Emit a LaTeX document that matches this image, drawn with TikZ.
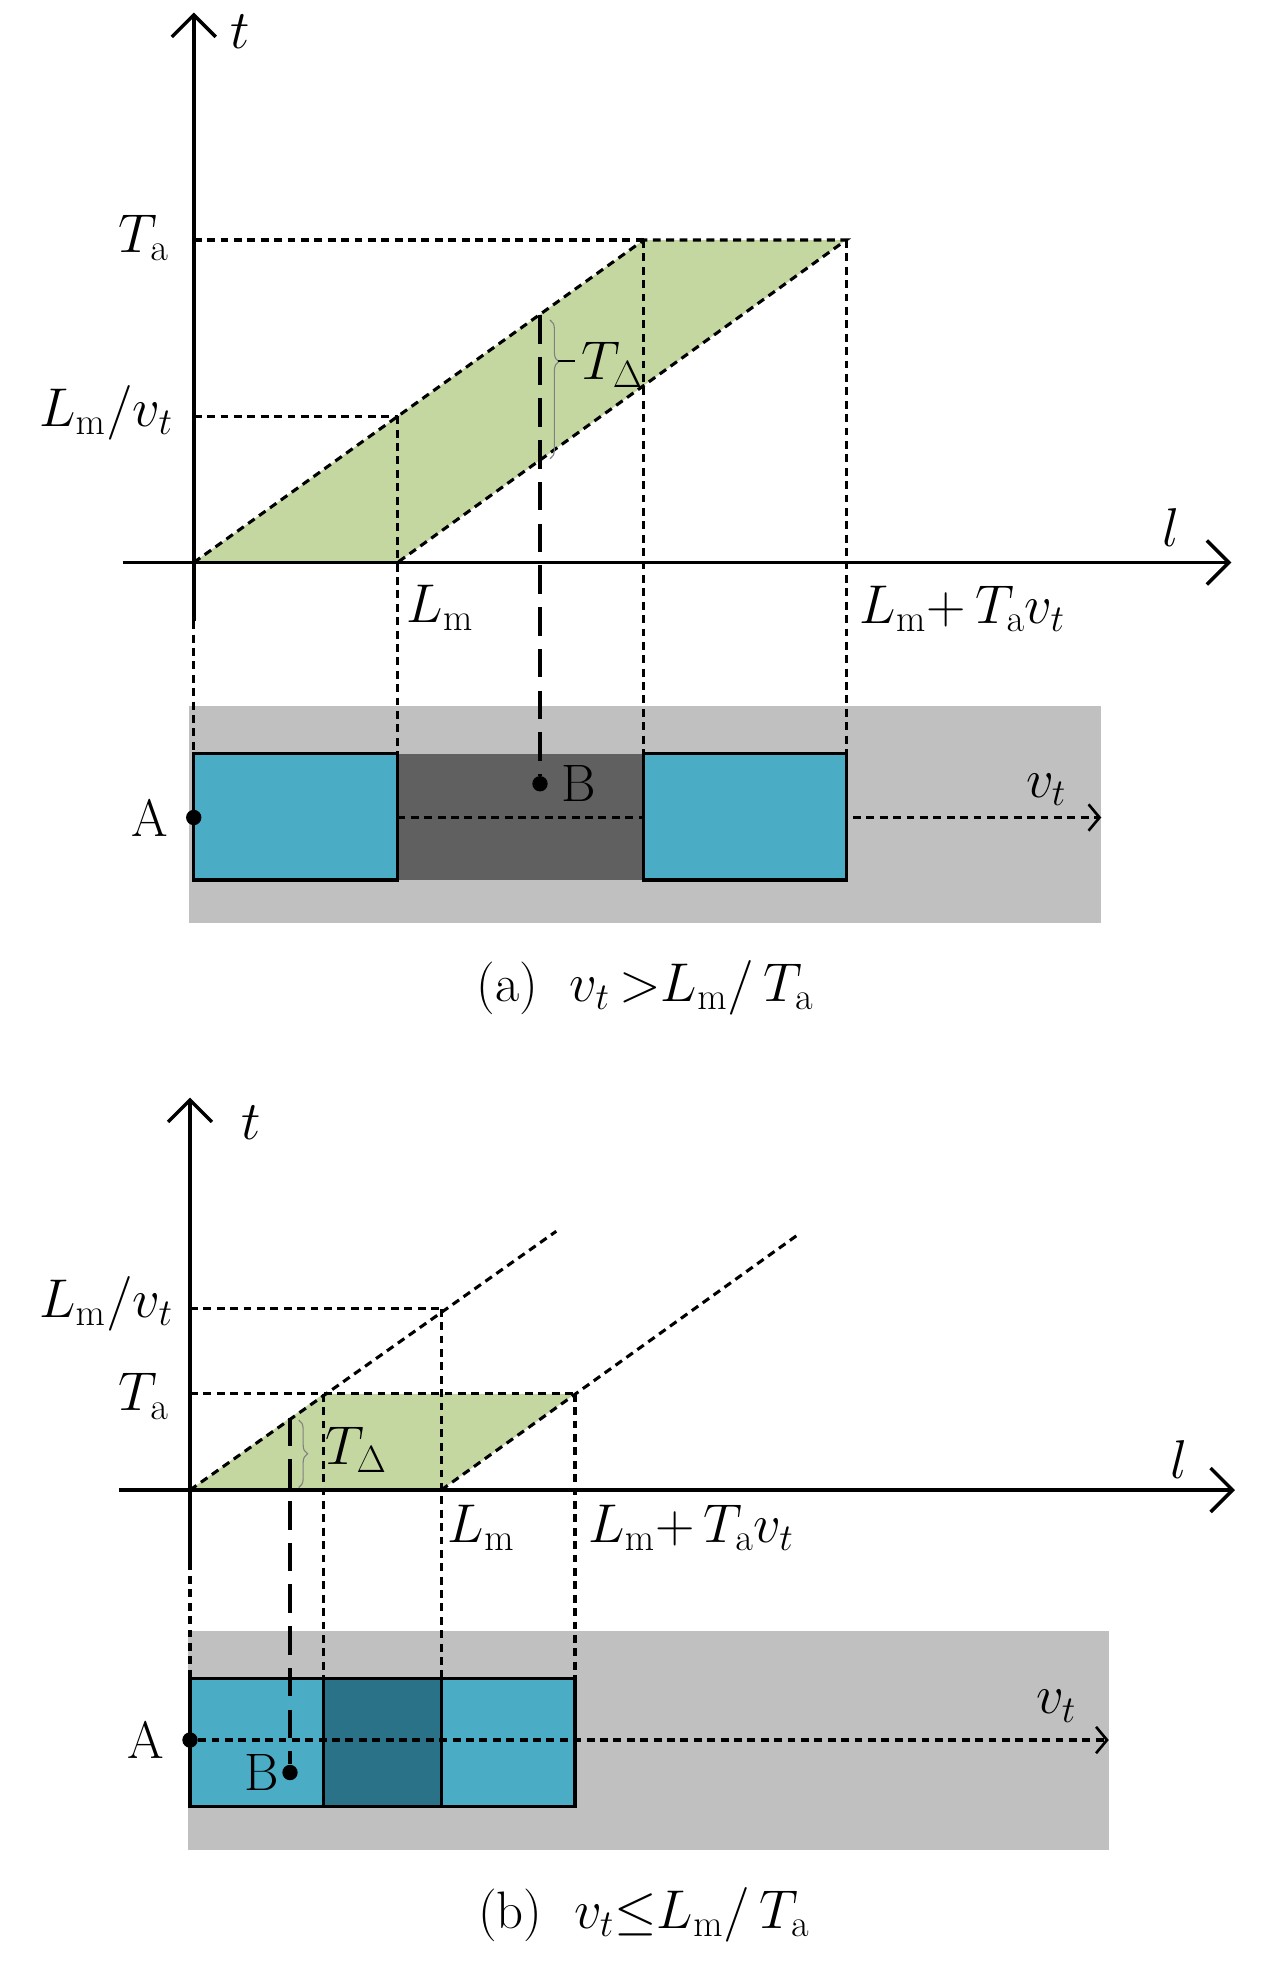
\documentclass[tikz,border=0pt]{standalone}
\usepackage{tikz}
\usetikzlibrary{arrows.meta,calc,positioning,decorations.pathreplacing}
\usepackage{amssymb}
\usepackage{amsmath}
\definecolor{gruen}{RGB}{196,215,160}
\definecolor{hellblau}{RGB}{75,172,198}
\definecolor{dunkelblau}{RGB}{42,114,136}
\definecolor{grau}{RGB}{192,192,192}
\definecolor{dunkelgrau}{RGB}{96,96,96}
\tikzset{
  achse/.style={line width=1.7pt,-{Straight Barb[length=10pt,width=20pt,line width=1.6pt]}},
  punktiert/.style={line width=1.4pt,dash pattern=on 3.6pt off 2.5pt},
  gestrichelt/.style={line width=1.8pt,dash pattern=on 13pt off 6pt},
  kasten/.style={line width=1.4pt,draw=black},
  beschr/.style={font=\fontsize{24}{28}\selectfont,inner sep=0pt},
  punkt/.style={circle,fill=black,inner sep=0pt,minimum size=7pt},
  klammer/.style={draw=gray,line width=0.5pt,decorate,decoration={brace,amplitude=4pt,aspect=#1}},
}
\begin{document}
\begin{tikzpicture}[x=0.02cm,y=-0.02cm]
\useasboundingbox (0,0) rectangle (1024,1572);
%Teil (a): v_t > L_m/T_a, Nullpunkt bei (155,450)
\coordinate (aO) at (155,450);   \coordinate (aLm) at (318,450);
\coordinate (aTa) at (515,192);  \coordinate (aTb) at (677,192);
\coordinate (aLv) at (318,333);
\fill[grau] (151,565) rectangle (881,738);
\fill[dunkelgrau] (318,603) rectangle (515,704);
\draw[punktiert,-{Straight Barb[length=5pt,width=12pt,line width=1.2pt]}] (318,654) -- (881,654);
\draw[kasten,fill=hellblau] (155,603) rectangle (318,704);
\draw[kasten,fill=hellblau] (515,603) rectangle (677,704);
\fill[gruen] (aO) -- (aLm) -- (aTb) -- (aTa) -- cycle;
\draw[punktiert] (aO) -- (aTa) -- (aTb) -- (aLm);
\draw[punktiert] (155,192) -- (aTa);
\draw[punktiert] (155,333) -- (aLv);
\foreach \x/\y in {155/497,318/333,515/192,677/192}{
  \draw[punktiert] (\x,\y) -- (\x,603);
}
\draw[achse] (155,497) -- (155,10);
\draw[achse] (98,450) -- (985,450);
\node[punkt] (aB) at (432,627) {};
\node[punkt] (aA) at (155,654) {};
\draw[gestrichelt] (432,252) -- (aB);
\draw[klammer=0.3] (440,256) -- (440,367);
\draw[line width=0.8pt] (446,289) -- (460,289);
\node[beschr] (at) at (192,25) {$t$};
\node[beschr] (al) at (937,422) {$l$};
\node[beschr] (aTaL) at (115,190) {$T_\mathrm{a}$};
\node[beschr] (aLvL) at (85,330) {$L_\mathrm{m}/v_t$};
\node[beschr] (aLmL) at (352,486) {$L_\mathrm{m}$};
\node[beschr] (aSumL) at (770,487) {$L_\mathrm{m}{+}\,T_\mathrm{a}v_t$};
\node[beschr] (aTdL) at (490,292) {$T_\Delta$};
\node[beschr,left=8pt of aA] (aAL) {A};
\node[beschr,right=6pt of aB] (aBL) {B};
\node[beschr] (avL) at (837,632) {$v_t$};
\node[beschr] (aCap) at (516,790) {(a)~~$v_t\,{>}L_\mathrm{m}/\,T_\mathrm{a}$};
%Teil (b): v_t <= L_m/T_a, Nullpunkt bei (152,1192)
\coordinate (bO) at (152,1192);   \coordinate (bLm) at (353,1192);
\coordinate (bTa) at (259,1115);  \coordinate (bTb) at (460,1115);
\coordinate (bLv) at (353,1047);
\fill[grau] (150,1305) rectangle (887,1480);
\fill[gruen] (bO) -- (bLm) -- (bTb) -- (bTa) -- cycle;
\draw[punktiert] (bO) -- (445,985);
\draw[punktiert] (bLm) -- (638,988);
\draw[punktiert] (152,1115) -- (bTb);
\draw[punktiert] (152,1047) -- (bLv);
\foreach \x/\y in {152/1250,259/1115,353/1047,460/1115}{
  \draw[punktiert] (\x,\y) -- (\x,1343);
}
\draw[kasten,fill=hellblau] (152,1343) rectangle (259,1445);
\draw[kasten,fill=dunkelblau] (259,1343) rectangle (353,1445);
\draw[kasten,fill=hellblau] (353,1343) rectangle (460,1445);
\draw[achse] (152,1250) -- (152,878);
\draw[achse] (95,1192) -- (988,1192);
\node[punkt] (bA) at (152,1392) {};
\node[punkt] (bB) at (232,1418) {};
\draw[punktiert,-{Straight Barb[length=5pt,width=12pt,line width=1.2pt]}] (bA) -- (887,1392);
\draw[gestrichelt] (232,1134) -- (bB);
\draw[klammer=0.5] (239,1136) -- (239,1190);
\node[beschr] (bt) at (201,898) {$t$};
\node[beschr] (bl) at (943,1168) {$l$};
\node[beschr] (bLvL) at (85,1043) {$L_\mathrm{m}/v_t$};
\node[beschr] (bTaL) at (115,1117) {$T_\mathrm{a}$};
\node[beschr] (bTdL) at (285,1160) {$T_\Delta$};
\node[beschr] (bLmL) at (385,1222) {$L_\mathrm{m}$};
\node[beschr] (bSumL) at (553,1222) {$L_\mathrm{m}{+}\,T_\mathrm{a}v_t$};
\node[beschr,left=8pt of bA] (bAL) {A};
\node[beschr,left=1pt of bB] (bBL) {B};
\node[beschr] (bvL) at (845,1365) {$v_t$};
\node[beschr] (bCap) at (515,1532) {(b)~~$v_t{\leq}L_\mathrm{m}/\,T_\mathrm{a}$};
\end{tikzpicture}
\end{document}
